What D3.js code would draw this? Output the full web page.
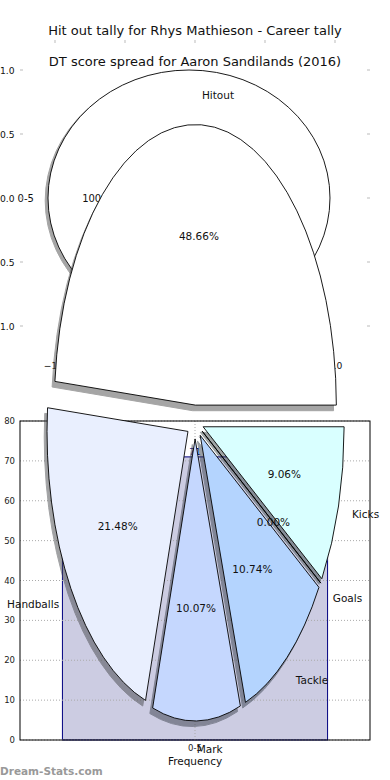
<!DOCTYPE html>
<html>
<head>
<meta charset="utf-8">
<script src="https://cdn.jsdelivr.net/npm/d3@7"></script>
<style>
body { margin: 0; background: #fff; }
svg { display: block; font-family: "DejaVu Sans", sans-serif; }
</style>
</head>
<body>
<svg id="chart"></svg>
<script>
// hit out tally pie
const hitLabels = ["0-5"];
const hitValues = [100];

// DT score spread pie
const dtLabels = ["Hitout", "Handballs", "Mark", "Tackle", "Goals", "Kicks"];
const dtValues = [48.66, 21.48, 10.07, 10.74, 0.00, 9.06];
const dtColors = ["#ffffff", "#e9effe", "#c5d7fe", "#b4d4fe", "#c8e4ff", "#d9ffff"];

// frequency histogram underneath
const freqBins = ["0-5"];
const freqValues = [71];
const freqTicks = [0, 10, 20, 30, 40, 50, 60, 70, 80];

// ticks of the empty pie frame
const pieTicks = [-1, -0.5, 0, 0.5, 1];

const svg = d3.select("#chart").attr("width", 390).attr("height", 780);

const arc = d3.arc().innerRadius(0).outerRadius(1);
const fmt = d => d.toFixed(2) + "%";

// pie angles: start at 3 o'clock, counter clockwise (like matplotlib)
function pieLayout(values) {
  return d3.pie().sort(null)
    .startAngle(Math.PI / 2)
    .endAngle(Math.PI / 2 - 2 * Math.PI)(values);
}

function shadowOf(c) {
  const r = d3.rgb(c);
  return d3.rgb(r.r * 0.3, r.g * 0.3, r.b * 0.3).toString();
}

// draws an elliptical pie, returns slice info for labels
function drawPie(g, values, colors, cx, cy, rx, ry, explode, sdx, sdy) {
  const slices = pieLayout(values).map(d => {
    const mid = (d.startAngle + d.endAngle) / 2;
    const ox = explode * Math.sin(mid) * rx;
    const oy = -explode * Math.cos(mid) * ry;
    return { d, mid, x: cx + ox, y: cy + oy };
  });
  // shadows first
  g.selectAll("path.shadow")
    .data(slices)
    .join("path")
    .attr("class", "shadow")
    .attr("transform", s => `translate(${s.x + sdx},${s.y + sdy}) scale(${rx},${ry})`)
    .attr("d", s => arc(s.d))
    .attr("fill", (s, i) => shadowOf(colors[i]))
    .attr("stroke", (s, i) => shadowOf(colors[i]))
    .attr("stroke-width", 1)
    .attr("vector-effect", "non-scaling-stroke")
    .attr("opacity", 0.5);
  g.selectAll("path.wedge")
    .data(slices)
    .join("path")
    .attr("class", "wedge")
    .attr("transform", s => `translate(${s.x},${s.y}) scale(${rx},${ry})`)
    .attr("d", s => arc(s.d))
    .attr("fill", (s, i) => colors[i])
    .attr("stroke", "#000")
    .attr("stroke-width", 0.9)
    .attr("vector-effect", "non-scaling-stroke");
  return slices;
}

function drawLabels(g, slices, labels, rx, ry, size) {
  g.selectAll("text.lab")
    .data(slices)
    .join("text")
    .attr("class", "lab")
    .attr("x", s => s.x + 1.1 * Math.sin(s.mid) * rx)
    .attr("y", s => s.y - 1.1 * Math.cos(s.mid) * ry)
    .attr("text-anchor", s => Math.sin(s.mid) > 0 ? "start" : "end")
    .attr("dominant-baseline", "central")
    .attr("font-size", size)
    .attr("fill", "#111")
    .text((s, i) => labels[i]);
  g.selectAll("text.pct")
    .data(slices)
    .join("text")
    .attr("class", "pct")
    .attr("x", s => s.x + 0.6 * Math.sin(s.mid) * rx)
    .attr("y", s => s.y - 0.6 * Math.cos(s.mid) * ry)
    .attr("text-anchor", "middle")
    .attr("dominant-baseline", "central")
    .attr("font-size", size)
    .attr("fill", "#111")
    .text(s => fmt(s.d.value));
}

// ---- pie 1 (hit out tally) ----
const g1 = svg.append("g");
const hitSlices = drawPie(g1, hitValues, ["#ffffff"], 189, 198, 141, 128, 0, -2.8, 2.6);
drawLabels(g1, hitSlices, hitLabels, 141, 128, 10);

// frame ticks of the pie axes
const xP = d3.scaleLinear().domain([-1, 1]).range([55, 335]);
const yP = d3.scaleLinear().domain([-1, 1]).range([326, 70]);
const tk = svg.append("g").attr("font-size", 9.2).attr("fill", "#111");
tk.selectAll("text.yl").data(pieTicks).join("text")
  .attr("class", "yl")
  .attr("x", 14.5).attr("y", d => yP(d))
  .attr("text-anchor", "end").attr("dominant-baseline", "central")
  .text(d => d3.format(".1f")(d).replace("-", "\u2212"));
tk.selectAll("text.xl").data(pieTicks).join("text")
  .attr("class", "xl")
  .attr("x", d => xP(d)).attr("y", 365)
  .attr("text-anchor", "middle").attr("dominant-baseline", "central")
  .text(d => d3.format(".1f")(d).replace("-", "\u2212"));
tk.selectAll("line.yt").data(pieTicks.concat(pieTicks)).join("line")
  .attr("class", "yt")
  .attr("x1", (d, i) => i < 5 ? 20 : 367).attr("x2", (d, i) => i < 5 ? 23 : 370)
  .attr("y1", d => yP(d)).attr("y2", d => yP(d))
  .attr("stroke", "#bbb");
tk.selectAll("line.xt").data(pieTicks).join("line")
  .attr("class", "xt")
  .attr("x1", d => xP(d)).attr("x2", d => xP(d))
  .attr("y1", 40).attr("y2", 43)
  .attr("stroke", "#bbb");

// titles
svg.append("text").attr("x", 195).attr("y", 30)
  .attr("text-anchor", "middle").attr("dominant-baseline", "central")
  .attr("font-size", 13).attr("fill", "#111")
  .text("Hit out tally for Rhys Mathieson - Career tally");
svg.append("text").attr("x", 195).attr("y", 61)
  .attr("text-anchor", "middle").attr("dominant-baseline", "central")
  .attr("font-size", 13).attr("fill", "#111")
  .text("DT score spread for Aaron Sandilands (2016)");

// ---- histogram axes ----
const xB = d3.scaleLinear().domain([-0.66, 0.66]).range([20, 370]);
const yB = d3.scaleLinear().domain([0, 80]).range([740, 421]);
const gb = svg.append("g");

gb.selectAll("rect.bar").data(freqValues).join("rect")
  .attr("class", "bar")
  .attr("x", (d, i) => xB(i - 0.5))
  .attr("width", xB(0.5) - xB(-0.5))
  .attr("y", d => yB(d))
  .attr("height", d => yB(0) - yB(d))
  .attr("fill", "#ccccE2")
  .attr("stroke", "#000080")
  .attr("stroke-width", 1);
gb.selectAll("text.val").data(freqValues).join("text")
  .attr("class", "val")
  .attr("x", (d, i) => xB(i)).attr("y", d => yB(d) - 2)
  .attr("text-anchor", "middle")
  .attr("font-size", 9).attr("fill", "#000080")
  .text(d => d);

// grid
gb.selectAll("line.hg").data(freqTicks).join("line")
  .attr("class", "hg")
  .attr("x1", 20).attr("x2", 370)
  .attr("y1", d => yB(d)).attr("y2", d => yB(d))
  .attr("stroke", "#aaa").attr("stroke-dasharray", "1,2");
gb.selectAll("line.vg").data(freqBins).join("line")
  .attr("class", "vg")
  .attr("x1", (d, i) => xB(i)).attr("x2", (d, i) => xB(i))
  .attr("y1", 421).attr("y2", 740)
  .attr("stroke", "#aaa").attr("stroke-dasharray", "1,2");

// frame
gb.append("rect")
  .attr("x", 20).attr("y", 421).attr("width", 350).attr("height", 319)
  .attr("fill", "none").attr("stroke", "#000").attr("stroke-width", 1);

gb.selectAll("text.yb").data(freqTicks).join("text")
  .attr("class", "yb")
  .attr("x", 15).attr("y", d => yB(d))
  .attr("text-anchor", "end").attr("dominant-baseline", "central")
  .attr("font-size", 8.5).attr("fill", "#222")
  .text(d => d);
gb.selectAll("text.xb").data(freqBins).join("text")
  .attr("class", "xb")
  .attr("x", (d, i) => xB(i)).attr("y", 748)
  .attr("text-anchor", "middle").attr("dominant-baseline", "central")
  .attr("font-size", 8.5).attr("fill", "#222")
  .text(d => d);
gb.append("text").attr("x", 195).attr("y", 761)
  .attr("text-anchor", "middle").attr("dominant-baseline", "central")
  .attr("font-size", 10.5).attr("fill", "#111")
  .text("Frequency");

// ---- pie 2 (DT score spread) ----
const g2 = svg.append("g");
const dtSlices = drawPie(g2, dtValues, dtColors, 195, 422, 141, 282, 0.06, -2.8, 5.6);
drawLabels(g2, dtSlices, dtLabels, 141, 282, 10.5);

// watermark
svg.append("text").attr("x", 0).attr("y", 771)
  .attr("dominant-baseline", "central")
  .attr("font-size", 10.5).attr("font-weight", "bold").attr("fill", "#999")
  .text("Dream-Stats.com");
</script>
</body>
</html>
